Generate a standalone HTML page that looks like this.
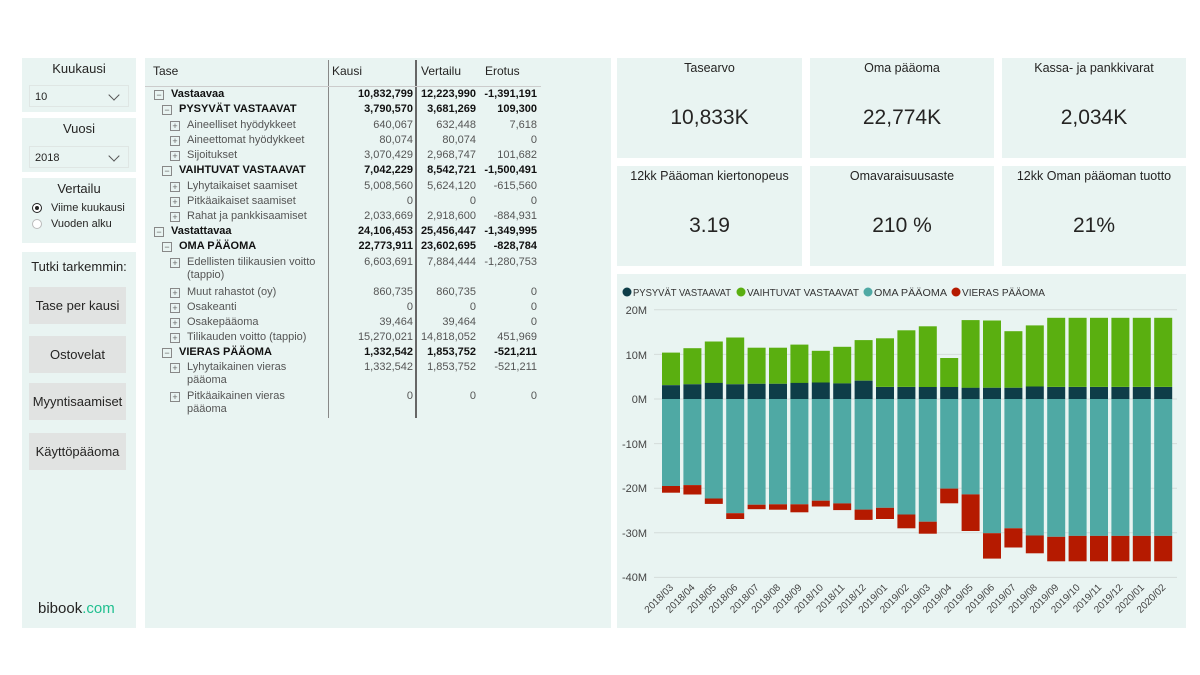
<!DOCTYPE html>
<html><head><meta charset="utf-8"><style>
body{margin:0;width:1200px;height:675px;background:#fff;font-family:"Liberation Sans",sans-serif;position:relative;overflow:hidden;color:#252423}
.p{position:absolute;background:#e9f4f2}
.a{position:absolute;white-space:nowrap}
.sl{font-size:13px;text-align:center;width:114px;left:0}
.dd{position:absolute;left:7px;width:100px;height:22px;border:1px solid #dfe6e4;font-size:11px;line-height:22px;padding-left:5px;box-sizing:border-box}
.dd:after{content:"";position:absolute;right:10px;top:5px;width:7px;height:7px;border-right:1.3px solid #555;border-bottom:1.3px solid #555;transform:rotate(45deg)}
.btn{position:absolute;left:7px;width:97px;height:37px;background:#e1e3e2;font-size:13px;text-align:center;line-height:37px}
.t{position:absolute;font-size:11px;white-space:nowrap;line-height:13px}
.b{font-weight:bold;color:#111}
.g{color:#555}
.r{text-align:right}
.ic{position:absolute;width:8px;height:8px;border:1px solid #888;font-size:9px;line-height:8px;text-align:center;color:#666}
.kt{position:absolute;width:100%;text-align:center;font-size:12.5px;top:3px}
.kv{position:absolute;width:100%;text-align:center;font-size:21px;top:48px}
</style></head><body>
<div class="p" style="left:22px;top:58px;width:114px;height:54px"><div class="a sl" style="top:3px">Kuukausi</div><div class="dd" style="top:27px">10</div></div>
<div class="p" style="left:22px;top:118px;width:114px;height:54px"><div class="a sl" style="top:3px">Vuosi</div><div class="dd" style="top:28px">2018</div></div>
<div class="p" style="left:22px;top:178px;width:114px;height:65px"><div class="a sl" style="top:3px">Vertailu</div>
<div class="a" style="left:10px;top:25px;width:8px;height:8px;border-radius:50%;border:1.5px solid #222;background:#fff"><div style="margin:2px;width:4px;height:4px;border-radius:50%;background:#222"></div></div>
<div class="a" style="left:29px;top:24px;font-size:11px">Viime kuukausi</div>
<div class="a" style="left:10px;top:41px;width:8px;height:8px;border-radius:50%;border:1px solid #bbb;background:#fff"></div>
<div class="a" style="left:29px;top:40px;font-size:11px">Vuoden alku</div></div>
<div class="p" style="left:22px;top:252px;width:114px;height:376px"><div class="a sl" style="top:7px">Tutki tarkemmin:</div>
<div class="btn" style="top:35px">Tase per kausi</div><div class="btn" style="top:84px">Ostovelat</div><div class="btn" style="top:131px">Myyntisaamiset</div><div class="btn" style="top:181px">Käyttöpääoma</div>
<div class="a" style="left:16px;top:348px;font-size:15px">bibook<span style="color:#1fbf8f">.com</span></div></div>
<div class="p" style="left:145px;top:58px;width:466px;height:570px">
<div class="a" style="left:183px;top:2px;width:1px;height:358px;background:#888"></div>
<div class="a" style="left:270px;top:2px;width:2px;height:358px;background:#666"></div>
<div class="a" style="left:0;top:28px;width:396px;height:1px;background:#ccc"></div>
<div class="t" style="left:8px;top:7px;font-size:12px">Tase</div>
<div class="t" style="left:187px;top:7px;font-size:12px">Kausi</div>
<div class="t" style="left:276px;top:7px;font-size:12px">Vertailu</div>
<div class="t" style="left:340px;top:7px;font-size:12px">Erotus</div>
</div>
<div id="tb"></div>
<div class="p" style="left:617px;top:58px;width:185px;height:100px"><div class="kt">Tasearvo</div><div class="kv">10,833K</div></div>
<div class="p" style="left:810px;top:58px;width:184px;height:100px"><div class="kt">Oma pääoma</div><div class="kv">22,774K</div></div>
<div class="p" style="left:1002px;top:58px;width:184px;height:100px"><div class="kt">Kassa- ja pankkivarat</div><div class="kv">2,034K</div></div>
<div class="p" style="left:617px;top:166px;width:185px;height:100px"><div class="kt">12kk Pääoman kiertonopeus</div><div class="kv">3.19</div></div>
<div class="p" style="left:810px;top:166px;width:184px;height:100px"><div class="kt">Omavaraisuusaste</div><div class="kv">210 %</div></div>
<div class="p" style="left:1002px;top:166px;width:184px;height:100px"><div class="kt">12kk Oman pääoman tuotto</div><div class="kv">21%</div></div>
<div class="p" style="left:617px;top:274px;width:569px;height:354px">
<svg width="569" height="354" style="position:absolute;left:0;top:0" font-family="Liberation Sans, sans-serif">
<g font-size="10.5" fill="#333">
<circle cx="10" cy="18" r="4.5" fill="#0e3d48"/><text x="16" y="22" textLength="98" lengthAdjust="spacingAndGlyphs">PYSYVÄT VASTAAVAT</text>
<circle cx="124" cy="18" r="4.5" fill="#5aaf10"/><text x="130" y="22" textLength="112" lengthAdjust="spacingAndGlyphs">VAIHTUVAT VASTAAVAT</text>
<circle cx="251" cy="18" r="4.5" fill="#4fa9a4"/><text x="257" y="22" textLength="73" lengthAdjust="spacingAndGlyphs">OMA PÄÄOMA</text>
<circle cx="339" cy="18" r="4.5" fill="#b51a00"/><text x="345" y="22" textLength="83" lengthAdjust="spacingAndGlyphs">VIERAS PÄÄOMA</text>
</g>
<g stroke="#d4dcda" stroke-width="1">
<line x1="37" x2="560" y1="35.8" y2="35.8"/><line x1="37" x2="560" y1="80.4" y2="80.4"/><line x1="37" x2="560" y1="125" y2="125"/><line x1="37" x2="560" y1="169.6" y2="169.6"/><line x1="37" x2="560" y1="214.2" y2="214.2"/><line x1="37" x2="560" y1="258.8" y2="258.8"/><line x1="37" x2="560" y1="303.4" y2="303.4"/>
</g>
<g font-size="11" fill="#444" text-anchor="end">
<text x="30" y="40">20M</text><text x="30" y="85">10M</text><text x="30" y="129">0M</text><text x="30" y="174">-10M</text><text x="30" y="218">-20M</text><text x="30" y="263">-30M</text><text x="30" y="307">-40M</text>
</g>
<g id="bars"></g>
<g id="xl" font-size="10" fill="#444" text-anchor="end"></g>
</svg></div>
<script>
var rows=[
[94,0,1,'Vastaavaa','10,832,799','12,223,990','-1,391,191'],
[109,1,1,'PYSYVÄT VASTAAVAT','3,790,570','3,681,269','109,300'],
[125,2,0,'Aineelliset hyödykkeet','640,067','632,448','7,618'],
[140,2,0,'Aineettomat hyödykkeet','80,074','80,074','0'],
[155,2,0,'Sijoitukset','3,070,429','2,968,747','101,682'],
[170,1,1,'VAIHTUVAT VASTAAVAT','7,042,229','8,542,721','-1,500,491'],
[186,2,0,'Lyhytaikaiset saamiset','5,008,560','5,624,120','-615,560'],
[201,2,0,'Pitkäaikaiset saamiset','0','0','0'],
[216,2,0,'Rahat ja pankkisaamiset','2,033,669','2,918,600','-884,931'],
[231,0,1,'Vastattavaa','24,106,453','25,456,447','-1,349,995'],
[246,1,1,'OMA PÄÄOMA','22,773,911','23,602,695','-828,784'],
[262,2,0,'Edellisten tilikausien voitto<br>(tappio)','6,603,691','7,884,444','-1,280,753'],
[292,2,0,'Muut rahastot (oy)','860,735','860,735','0'],
[307,2,0,'Osakeanti','0','0','0'],
[322,2,0,'Osakepääoma','39,464','39,464','0'],
[337,2,0,'Tilikauden voitto (tappio)','15,270,021','14,818,052','451,969'],
[352,1,1,'VIERAS PÄÄOMA','1,332,542','1,853,752','-521,211'],
[367,2,0,'Lyhytaikainen vieras<br>pääoma','1,332,542','1,853,752','-521,211'],
[396,2,0,'Pitkäaikainen vieras<br>pääoma','0','0','0']];
var h='';
rows.forEach(function(r){var y=r[0]-6,ix=154+r[1]*8,c=r[2]?'b':'g';
h+='<div class="ic" style="left:'+ix+'px;top:'+(y+2)+'px">'+(r[2]?'−':'+')+'</div>';
h+='<div class="t '+c+'" style="left:'+(ix+17)+'px;top:'+y+'px">'+r[3]+'</div>';
h+='<div class="t r '+c+'" style="left:313px;width:100px;top:'+y+'px">'+r[4]+'</div>';
h+='<div class="t r '+c+'" style="left:376px;width:100px;top:'+y+'px">'+r[5]+'</div>';
h+='<div class="t r '+c+'" style="left:437px;width:100px;top:'+y+'px">'+r[6]+'</div>';});
document.getElementById('tb').innerHTML=h;
var d=[[3.1,10.4,19.5,21],[3.3,11.4,19.3,21.4],[3.6,12.9,22.3,23.5],[3.3,13.8,25.6,26.9],[3.4,11.5,23.7,24.7],[3.4,11.5,23.6,24.8],[3.6,12.2,23.6,25.4],[3.7,10.8,22.8,24.1],[3.5,11.7,23.4,24.9],[4.1,13.2,24.8,27.1],[2.7,13.6,24.4,26.9],[2.7,15.4,25.9,29],[2.7,16.3,27.5,30.2],[2.7,9.2,20.1,23.4],[2.5,17.7,21.4,29.6],[2.5,17.6,30.1,35.8],[2.5,15.2,29,33.3],[2.8,16.5,30.6,34.6],[2.7,18.2,30.9,36.4],[2.7,18.2,30.7,36.4],[2.7,18.2,30.7,36.4],[2.7,18.2,30.7,36.4],[2.7,18.2,30.7,36.4],[2.7,18.2,30.7,36.4]];
var lb=['2018/03','2018/04','2018/05','2018/06','2018/07','2018/08','2018/09','2018/10','2018/11','2018/12','2019/01','2019/02','2019/03','2019/04','2019/05','2019/06','2019/07','2019/08','2019/09','2019/10','2019/11','2019/12','2020/01','2020/02'];
var s=4.46,b='',x='';
d.forEach(function(v,i){var X=(45+i*21.4).toFixed(1);
function R(y,hh,c){return '<rect x="'+X+'" y="'+y.toFixed(1)+'" width="18" height="'+hh.toFixed(1)+'" fill="'+c+'"/>';}
b+=R(125-v[1]*s,(v[1]-v[0])*s,'#5aaf10')+R(125-v[0]*s,v[0]*s,'#0e3d48')+R(125,v[2]*s,'#4fa9a4')+R(125+v[2]*s,(v[3]-v[2])*s,'#b51a00');
var cx=45+i*21.4+12;x+='<text transform="translate('+cx.toFixed(1)+',314) rotate(-45)">'+lb[i]+'</text>';});
document.getElementById('bars').innerHTML=b;document.getElementById('xl').innerHTML=x;
</script>
</body></html>
